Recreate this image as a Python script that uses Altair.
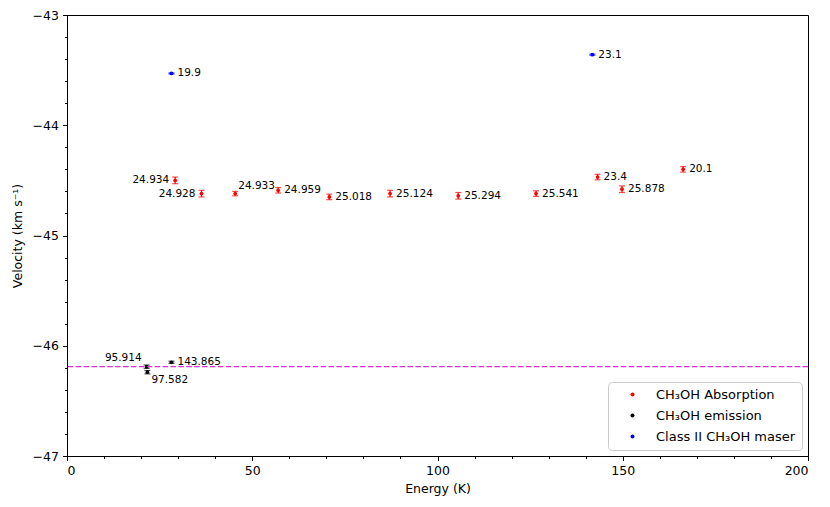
import altair as alt
import pandas as pd

# ---------------- data ----------------
abs_energy = [29.2, 36.3, 45.4, 57.0, 70.8, 87.2, 105.6, 126.6, 143.2, 149.8, 166.3]
abs_velocity = [-44.50, -44.62, -44.62, -44.59, -44.65, -44.62, -44.64, -44.62, -44.47, -44.58, -44.40]
abs_error = [0.03, 0.03, 0.02, 0.025, 0.025, 0.03, 0.03, 0.025, 0.025, 0.03, 0.025]
abs_labels = ["24.934", "24.928", "24.933", "24.959", "25.018", "25.124",
              "25.294", "25.541", "23.4", "25.878", "20.1"]

emi_energy = [21.5, 21.7, 28.2]
emi_velocity = [-46.19, -46.24, -46.15]
emi_error = [0.015, 0.015, 0.01]
emi_labels = ["95.914", "97.582", "143.865"]

mas_energy = [28.2, 141.8]
mas_velocity = [-43.53, -43.36]
mas_error = [0.005, 0.005]
mas_labels = ["19.9", "23.1"]

systemic_velocity = [-46.19]

group_names = ["CH₃OH Absorption", "CH₃OH emission", "Class II CH₃OH maser"]
group_colors = ["#ff0000", "#000000", "#0000ff"]

x_major = [0, 50, 100, 150, 200]
x_minor = [10, 20, 30, 40, 60, 70, 80, 90, 110, 120, 130, 140, 160, 170, 180, 190]
y_major = [-47, -46, -45, -44, -43]
y_minor = [-46.8, -46.6, -46.4, -46.2, -45.8, -45.6, -45.4, -45.2,
           -44.8, -44.6, -44.4, -44.2, -43.8, -43.6, -43.4, -43.2]

# ---------------- styling ----------------
FONT = "DejaVu Sans"
label_placement = {"24.934": "left", "24.928": "left", "24.933": "upright",
                   "95.914": "upleft", "97.582": "downright"}
placement_style = {
    "right": dict(align="left", dx=6, dy=0),
    "left": dict(align="right", dx=-6, dy=0),
    "upright": dict(align="left", dx=3, dy=-8),
    "upleft": dict(align="right", dx=-5, dy=-9),
    "downright": dict(align="left", dx=4, dy=8),
}

rows = []
for g, E, V, Err, L in [
    (group_names[0], abs_energy, abs_velocity, abs_error, abs_labels),
    (group_names[1], emi_energy, emi_velocity, emi_error, emi_labels),
    (group_names[2], mas_energy, mas_velocity, mas_error, mas_labels),
]:
    for e, v, er, lab in zip(E, V, Err, L):
        rows.append(dict(group=g, energy=e, velocity=v, lo=v - er, hi=v + er,
                         label=lab, place=label_placement.get(lab, "right")))
df = pd.DataFrame(rows)

x_scale = alt.Scale(domain=[0, 200], nice=False, zero=False)
y_scale = alt.Scale(domain=[-47, -43], nice=False, zero=False)
color_scale = alt.Scale(domain=group_names, range=group_colors)

common_axis = dict(
    grid=False, labelPadding=4, labelOverlap=False,
    labelFont=FONT, titleFont=FONT, labelFontSize=12.5, titleFontSize=12.5,
    titleFontWeight="normal", labelColor="black", titleColor="black",
    domainColor="black", tickColor="black", tickSize=4.5, tickWidth=1,
)
x_axis = alt.Axis(values=x_major, format="d", title="Energy (K)", orient="bottom",
                  titlePadding=5, **common_axis)
y_axis = alt.Axis(values=y_major, format="d", title="Velocity (km s⁻¹)", orient="left",
                  titlePadding=8, **common_axis)

x_minor_axis = alt.Axis(values=x_minor, orient="bottom", labels=False, domain=False,
                        title=None, grid=False, tickSize=2.5, tickColor="black", tickWidth=1)
y_minor_axis = alt.Axis(values=y_minor, orient="left", labels=False, domain=False,
                        title=None, grid=False, tickSize=2.5, tickColor="black", tickWidth=1)


def X():
    return alt.X("energy:Q", scale=x_scale, axis=x_axis)


def Y(field="velocity"):
    return alt.Y(f"{field}:Q", scale=y_scale, axis=y_axis)


base = alt.Chart(df)

systemic = alt.Chart(pd.DataFrame({"velocity": systemic_velocity})).mark_rule(
    color="#d830d8", strokeDash=[5.5, 2.4], strokeWidth=1.3
).encode(y=Y())

err_rule = base.mark_rule(strokeWidth=1.2).encode(
    x=X(), y=Y("lo"), y2="hi:Q",
    color=alt.Color("group:N", scale=color_scale, legend=None),
)
cap_lo = base.mark_tick(orient="horizontal", size=6, thickness=1.2).encode(
    x=X(), y=Y("lo"), color=alt.Color("group:N", scale=color_scale, legend=None),
)
cap_hi = base.mark_tick(orient="horizontal", size=6, thickness=1.2).encode(
    x=X(), y=Y("hi"), color=alt.Color("group:N", scale=color_scale, legend=None),
)

points = base.mark_circle(size=14, opacity=1).encode(
    x=X(), y=Y(),
    color=alt.Color(
        "group:N", scale=color_scale,
        legend=alt.Legend(
            title=None, orient="bottom-right", offset=6, padding=6,
            fillColor="white", strokeColor="#cccccc", cornerRadius=4,
            labelFont=FONT, labelFontSize=13, labelColor="black", labelLimit=400,
            symbolType="circle", symbolSize=16, symbolStrokeWidth=0,
            rowPadding=7, symbolOffset=12, labelOffset=17,
        ),
    ),
)

texts = []
for name, st in placement_style.items():
    texts.append(
        base.transform_filter(alt.datum.place == name).mark_text(
            align=st["align"], baseline="middle", dx=st["dx"], dy=st["dy"],
            font=FONT, fontSize=10.5, color="black",
        ).encode(x=X(), y=Y(), text="label:N")
    )

main = alt.layer(points, systemic, err_rule, cap_lo, cap_hi, *texts)

minor = base.mark_point(opacity=0).encode(
    x=alt.X("energy:Q", scale=x_scale, axis=x_minor_axis),
    y=alt.Y("velocity:Q", scale=y_scale, axis=y_minor_axis),
)

chart = alt.layer(main, minor).resolve_axis(x="independent", y="independent").properties(
    width=741, height=441,
    autosize=alt.AutoSizeParams(type="none"),
    padding={"left": 59, "top": 7, "right": 10, "bottom": 45},
).configure_view(stroke="black", strokeWidth=1)

chart.save("out.html", embed_options={"renderer": "svg", "actions": False})
